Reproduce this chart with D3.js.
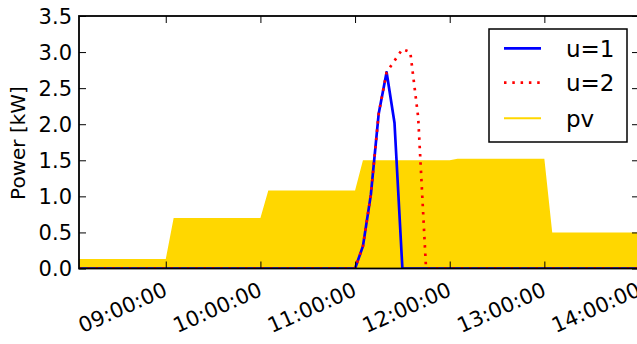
<!DOCTYPE html>
<html><head><meta charset="utf-8">
<script src="https://cdn.jsdelivr.net/npm/d3@7"></script>
<style>html,body{margin:0;padding:0;background:#fff;}svg{display:block;}</style>
</head><body>
<svg id="chart" width="637" height="344"></svg>
<script>
// ---- data ----
const pvTimes = ["08:05","09:00","09:05","10:00","10:05","11:00","11:05","12:00","12:05","13:00","13:05","14:00"];
const pvValues = [0.13,0.13,0.70,0.70,1.08,1.08,1.50,1.50,1.52,1.52,0.50,0.50];
const uTimes = ["08:05","11:00","11:05","11:10","11:15","11:20","11:25","11:30","11:35","11:40","11:45","14:00"];
const u1Values = [0,0,0.31,1.02,2.15,2.72,2.02,0,0,0,0,0];
const u2Values = [0,0,0.31,1.02,2.15,2.72,2.88,3.04,3.00,2.10,0,0];
const xTickLabels = ["09:00:00","10:00:00","11:00:00","12:00:00","13:00:00","14:00:00"];
const yTicks = [0,0.5,1,1.5,2,2.5,3,3.5];
const legendLabels = ["u=1","u=2","pv"];

const parse = d3.utcParse("%H:%M");
const parseTick = d3.utcParse("%H:%M:%S");
const FONT = "DejaVu Sans, sans-serif";

const L = 79, R = 639, T = 16, B = 268.5;
const x = d3.scaleUtc().domain([parse("08:05"), parse("14:00")]).range([L, R]);
const y = d3.scaleLinear().domain([0, 3.5]).range([B, T]);

const svg = d3.select("#chart");
svg.append("defs").append("clipPath").attr("id","clip")
  .append("rect").attr("x",L).attr("y",T).attr("width",R-L).attr("height",B-T);

const pv = pvTimes.map((t,i)=>({t:parse(t), v:pvValues[i]}));
const u1 = uTimes.map((t,i)=>({t:parse(t), v:u1Values[i]}));
const u2 = uTimes.map((t,i)=>({t:parse(t), v:u2Values[i]}));

const g = svg.append("g").attr("clip-path","url(#clip)");
g.append("path").datum(pv)
  .attr("d", d3.area().x(d=>x(d.t)).y0(y(0)).y1(d=>y(d.v)))
  .attr("fill","#FFD700");
const line = d3.line().x(d=>x(d.t)).y(d=>y(d.v));
g.append("path").datum(u1).attr("d",line).attr("fill","none")
  .attr("stroke","#0000ff").attr("stroke-width",2.7).attr("stroke-linejoin","round");
g.append("path").datum(u2).attr("d",line).attr("fill","none")
  .attr("stroke","#ff0000").attr("stroke-width",2.7).attr("stroke-dasharray","2.5,5.8");

// frame
svg.append("rect").attr("x",L).attr("y",T).attr("width",R-L).attr("height",B-T)
  .attr("fill","none").attr("stroke","#000").attr("stroke-width",1.8);

// x ticks
const xt = xTickLabels.map(s=>parseTick(s));
const xAxisB = d3.axisBottom(x).tickValues(xt).tickSize(-7).tickFormat("");
const xAxisT = d3.axisTop(x).tickValues(xt).tickSize(-7).tickFormat("");
svg.append("g").attr("transform",`translate(0,${B})`).call(xAxisB).call(s=>s.select(".domain").remove());
svg.append("g").attr("transform",`translate(0,${T})`).call(xAxisT).call(s=>s.select(".domain").remove());
xt.forEach((d,i)=>{
  const px = x(d)+3, py = 295;
  svg.append("text").attr("x",px).attr("y",py)
    .attr("transform",`rotate(-24,${px},${py})`)
    .attr("text-anchor","end").attr("font-family",FONT).attr("font-size",21)
    .attr("fill","#000").text(xTickLabels[i]);
});

// y ticks
const yAxisL = d3.axisLeft(y).tickValues(yTicks).tickSize(-7).tickFormat("");
const yAxisR = d3.axisRight(y).tickValues(yTicks).tickSize(-7).tickFormat("");
svg.append("g").attr("transform",`translate(${L},0)`).call(yAxisL).call(s=>s.select(".domain").remove());
svg.append("g").attr("transform",`translate(${R},0)`).call(yAxisR).call(s=>s.select(".domain").remove());
svg.selectAll(".tick line").attr("stroke","#000").attr("stroke-width",1);
yTicks.forEach(v=>{
  svg.append("text").attr("x",72).attr("y",y(v)).attr("dy","0.36em")
    .attr("text-anchor","end").attr("font-family",FONT).attr("font-size",21)
    .attr("fill","#000").text(d3.format(".1f")(v));
});

// y label
svg.append("text").attr("transform","translate(25,143) rotate(-90)")
  .attr("text-anchor","middle").attr("font-family",FONT).attr("font-size",20)
  .attr("fill","#000").text("Power [kW]");

// legend
const lg = svg.append("g");
lg.append("rect").attr("x",489).attr("y",29).attr("width",138).attr("height",113)
  .attr("fill","#fff").attr("stroke","#000").attr("stroke-width",1.5);
const legendStyles = [
  {c:"#0000ff", w:2.7, dash:null},
  {c:"#ff0000", w:2.7, dash:"2.5,5.8"},
  {c:"#FFD700", w:2, dash:null}
];
const legendY = [48.3, 82.7, 118.3];
legendLabels.forEach((lab,i)=>{
  const s = legendStyles[i];
  const ln = lg.append("line").attr("x1",504).attr("x2",541).attr("y1",legendY[i]).attr("y2",legendY[i])
    .attr("stroke",s.c).attr("stroke-width",s.w);
  if (s.dash) ln.attr("stroke-dasharray",s.dash);
  lg.append("text").attr("x",566).attr("y",legendY[i]).attr("dy","0.36em")
    .attr("font-family",FONT).attr("font-size",23).attr("fill","#000").text(lab);
});
</script>
</body></html>
